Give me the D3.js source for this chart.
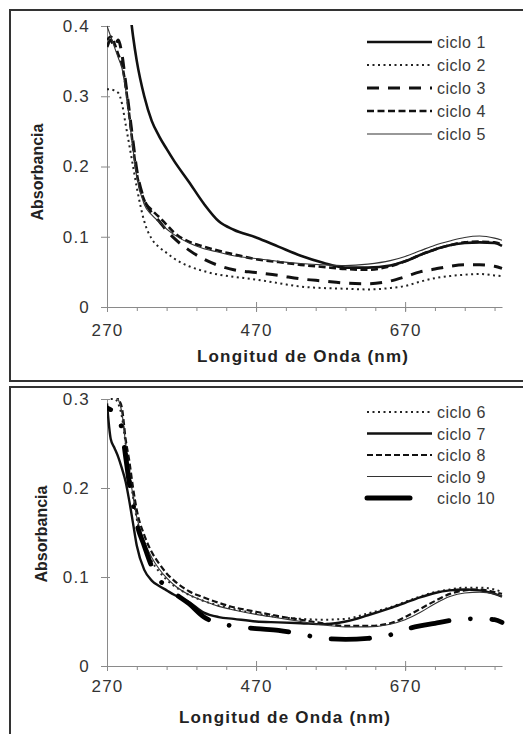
<!DOCTYPE html>
<html>
<head>
<meta charset="utf-8">
<script src="https://cdn.jsdelivr.net/npm/d3@7"></script>
<style>
  html, body { margin: 0; padding: 0; background: #fff; }
  svg { display: block; }
  text { font-family: "Liberation Sans", Arial, sans-serif; }
</style>
</head>
<body>
<svg id="chart" width="523" height="734"></svg>
<script>
// ---------- DATA ----------
const wavelengths = [270, 275, 280, 285, 290, 295, 300, 305, 310, 320, 330, 340, 350, 360, 380, 400, 420, 440, 470, 500, 530, 560, 590, 620, 650, 670, 690, 710, 730, 750, 770, 790, 800];

const xTickLabels = [270, 470, 670];
const xMinorTicks = [270, 310, 350, 390, 430, 470, 510, 550, 590, 630, 670, 710, 750, 790];
const yTicksTop = [0, 0.1, 0.2, 0.3, 0.4];
const yTicksBottom = [0, 0.1, 0.2, 0.3];

const seriesNamesTop = ["ciclo 1", "ciclo 2", "ciclo 3", "ciclo 4", "ciclo 5"];
const seriesNamesBottom = ["ciclo 6", "ciclo 7", "ciclo 8", "ciclo 9", "ciclo 10"];

const ciclo1 = [null, null, null, null, null, null, 0.43, 0.385, 0.350, 0.300, 0.265, 0.243, 0.225, 0.208, 0.178, 0.147, 0.122, 0.110, 0.099, 0.086, 0.073, 0.063, 0.056, 0.056, 0.059, 0.065, 0.074, 0.082, 0.088, 0.091, 0.092, 0.091, 0.087];
const ciclo2 = [0.310, 0.310, 0.308, 0.305, 0.290, 0.260, 0.230, 0.200, 0.170, 0.122, 0.097, 0.085, 0.077, 0.069, 0.058, 0.051, 0.046, 0.043, 0.039, 0.034, 0.029, 0.027, 0.026, 0.025, 0.027, 0.030, 0.036, 0.041, 0.044, 0.046, 0.047, 0.045, 0.044];
const ciclo3 = [0.370, 0.380, 0.370, 0.380, 0.360, 0.320, 0.278, 0.235, 0.195, 0.153, 0.134, 0.122, 0.109, 0.098, 0.081, 0.068, 0.059, 0.053, 0.049, 0.045, 0.040, 0.037, 0.034, 0.033, 0.037, 0.043, 0.050, 0.054, 0.058, 0.060, 0.060, 0.058, 0.055];
const ciclo4 = [0.380, 0.385, 0.375, 0.360, 0.345, 0.315, 0.272, 0.228, 0.190, 0.152, 0.138, 0.128, 0.117, 0.106, 0.093, 0.086, 0.080, 0.075, 0.068, 0.064, 0.060, 0.057, 0.054, 0.053, 0.058, 0.065, 0.074, 0.082, 0.088, 0.092, 0.093, 0.092, 0.089];
const ciclo5 = [0.400, 0.385, 0.370, 0.355, 0.340, 0.310, 0.268, 0.224, 0.185, 0.146, 0.131, 0.121, 0.111, 0.103, 0.091, 0.083, 0.078, 0.073, 0.069, 0.065, 0.062, 0.060, 0.059, 0.061, 0.066, 0.072, 0.080, 0.088, 0.094, 0.099, 0.101, 0.098, 0.095];

const ciclo6 = [null, 0.300, 0.300, 0.295, 0.280, 0.250, 0.220, 0.190, 0.165, 0.138, 0.118, 0.106, 0.097, 0.090, 0.080, 0.073, 0.068, 0.064, 0.059, 0.055, 0.053, 0.052, 0.053, 0.059, 0.066, 0.072, 0.078, 0.083, 0.086, 0.088, 0.088, 0.086, 0.083];
const ciclo7 = [0.295, 0.255, 0.245, 0.235, 0.222, 0.207, 0.185, 0.160, 0.135, 0.108, 0.096, 0.090, 0.085, 0.080, 0.072, 0.060, 0.055, 0.053, 0.050, 0.049, 0.048, 0.047, 0.050, 0.057, 0.065, 0.071, 0.077, 0.082, 0.085, 0.086, 0.085, 0.081, 0.078];
const ciclo8 = [null, null, 0.305, 0.300, 0.290, 0.255, 0.230, 0.200, 0.175, 0.147, 0.128, 0.115, 0.104, 0.096, 0.084, 0.077, 0.071, 0.066, 0.061, 0.056, 0.052, 0.048, 0.045, 0.045, 0.048, 0.055, 0.064, 0.073, 0.081, 0.085, 0.086, 0.083, 0.081];
const ciclo9 = [null, null, 0.305, 0.300, 0.285, 0.250, 0.220, 0.190, 0.167, 0.140, 0.122, 0.109, 0.099, 0.091, 0.080, 0.073, 0.067, 0.063, 0.058, 0.054, 0.050, 0.046, 0.044, 0.044, 0.047, 0.052, 0.060, 0.070, 0.078, 0.082, 0.083, 0.081, 0.078];
const ciclo10 = [0.290, 0.288, 0.287, 0.283, 0.265, 0.235, 0.205, 0.182, 0.160, 0.135, 0.112, 0.097, 0.089, 0.082, 0.070, 0.055, 0.048, 0.045, 0.042, 0.040, 0.036, 0.031, 0.030, 0.031, 0.035, 0.041, 0.045, 0.048, 0.051, 0.053, 0.053, 0.052, 0.049];

const topValues = [ciclo1, ciclo2, ciclo3, ciclo4, ciclo5];
const bottomValues = [ciclo6, ciclo7, ciclo8, ciclo9, ciclo10];

// ---------- STYLES ----------
const stylesTop = [
  { width: 2.6, dash: null, color: "#111", cap: "butt" },
  { width: 2, dash: "2,3.5", color: "#222", cap: "butt" },
  { width: 3, dash: "12,9", color: "#111", cap: "butt" },
  { width: 2.6, dash: "7,3.5", color: "#111", cap: "butt" },
  { width: 1.1, dash: null, color: "#333", cap: "butt" }
];
const stylesBottom = [
  { width: 2, dash: "2,3.5", color: "#222", cap: "butt" },
  { width: 2.4, dash: null, color: "#111", cap: "butt" },
  { width: 2.2, dash: "6,3", color: "#111", cap: "butt" },
  { width: 1.1, dash: null, color: "#333", cap: "butt" },
  { width: 4.8, dash: "dashdot", color: "#000", cap: "round" }
];

const svg = d3.select("#chart");

// panel frames
svg.append("rect").attr("x", 10).attr("y", 10).attr("width", 530).attr("height", 371)
  .attr("fill", "none").attr("stroke", "#333").attr("stroke-width", 2);
svg.append("rect").attr("x", 10).attr("y", 387).attr("width", 530).attr("height", 360)
  .attr("fill", "none").attr("stroke", "#333").attr("stroke-width", 2);

function drawPanel(opts) {
  const g = svg.append("g");
  const x = d3.scaleLinear().domain([270, 800]).range([107, 502]);
  const y = d3.scaleLinear().domain([0, opts.ymax]).range([opts.y0, opts.ytop]);
  const axisColor = "#8a8a8a";

  // clip
  const clipId = "clip" + opts.id;
  svg.append("clipPath").attr("id", clipId).append("rect")
    .attr("x", x(270)).attr("y", y(opts.ymax) - 1).attr("width", x(800) - x(270) + 3).attr("height", y(0) - y(opts.ymax) + 1);

  // x axis minor ticks (downward)
  const xMinor = g.append("g").attr("transform", `translate(0,${y(0)})`)
    .call(d3.axisBottom(x).tickValues(xMinorTicks).tickSize(4).tickSizeOuter(0).tickFormat(""));
  xMinor.select(".domain").attr("stroke", axisColor);
  xMinor.selectAll(".tick line").attr("stroke", axisColor);
  // major ticks crossing
  const xMajor = g.append("g").attr("transform", `translate(0,${y(0) - 5})`)
    .call(d3.axisBottom(x).tickValues(xTickLabels).tickSize(10).tickFormat(""));
  xMajor.select(".domain").remove();
  xMajor.selectAll(".tick line").attr("stroke", axisColor);
  // x labels
  const xLab = g.append("g").attr("transform", `translate(0,${y(0)})`)
    .call(d3.axisBottom(x).tickValues(xTickLabels).tickSize(0).tickPadding(opts.xLabelPad).tickFormat(d3.format("d")));
  xLab.select(".domain").remove();
  xLab.selectAll("text").attr("font-size", 17).attr("fill", "#333")
    .attr("font-family", "Liberation Sans, Arial, sans-serif").style("letter-spacing", "1.2px");

  // y axis
  const yTickG = g.append("g").attr("transform", `translate(${x(270) + 3},0)`)
    .call(d3.axisLeft(y).tickValues(opts.yTicks).tickSize(9).tickFormat(""));
  yTickG.select(".domain").remove();
  yTickG.selectAll(".tick line").attr("stroke", axisColor);
  const yDom = g.append("g").attr("transform", `translate(${x(270)},0)`)
    .call(d3.axisLeft(y).tickValues([]).tickSizeOuter(0));
  yDom.select(".domain").attr("stroke", axisColor);
  const yLab = g.append("g").attr("transform", `translate(${x(270)},0)`)
    .call(d3.axisLeft(y).tickValues(opts.yTicks).tickSize(0).tickPadding(17)
      .tickFormat(d => d === 0 ? "0" : d3.format(".1f")(d)));
  yLab.select(".domain").remove();
  yLab.selectAll("text").attr("font-size", 17).attr("fill", "#333")
    .attr("font-family", "Liberation Sans, Arial, sans-serif").style("letter-spacing", "1.2px");

  // axis titles
  g.append("text").attr("x", opts.xTitleX).attr("y", opts.xTitleY)
    .attr("text-anchor", "middle").attr("font-size", 17).attr("font-weight", "bold")
    .attr("fill", "#222").style("letter-spacing", "1.2px")
    .text("Longitud de Onda (nm)");
  g.append("text").attr("transform", `translate(${opts.yTitleX},${opts.yTitleY}) rotate(-90)`)
    .attr("text-anchor", "middle").attr("font-size", 16).attr("font-weight", "bold")
    .attr("fill", "#222").text("Absorbancia");

  // lines
  const lineGen = vals => d3.line()
    .defined((d, i) => vals[i] !== null)
    .x((d, i) => x(wavelengths[i]))
    .y((d, i) => y(vals[i]))
    .curve(d3.curveMonotoneX)(wavelengths);

  const linesG = g.append("g").attr("clip-path", `url(#${clipId})`);
  opts.values.forEach((vals, k) => {
    const st = opts.styles[k];
    const p = linesG.append("path").attr("d", lineGen(vals))
      .attr("fill", "none").attr("stroke", st.color).attr("stroke-width", st.width)
      .attr("stroke-linecap", st.cap).attr("stroke-linejoin", "round");
    if (st.dash === "dashdot") {
      const dashLen = 38.5, gap = 21.5, period = dashLen + gap + 0.01 + gap;
      p.attr("stroke-dasharray", `${dashLen},${gap},0.01,${gap}`);
      // align a dot with the dot visible near 542 nm
      const node = p.node();
      const total = node.getTotalLength();
      const target = x(542);
      let lo = 0, hi = total;
      for (let it = 0; it < 40; it++) {
        const mid = (lo + hi) / 2;
        if (node.getPointAtLength(mid).x < target) lo = mid; else hi = mid;
      }
      const want = dashLen + gap;
      p.attr("stroke-dashoffset", (((want - lo) % period) + period) % period);
    } else if (st.dash) {
      p.attr("stroke-dasharray", st.dash);
    }
  });

  // legend
  const lg = g.append("g");
  opts.names.forEach((name, k) => {
    const st = opts.styles[k];
    const ly = opts.legendY + k * opts.legendStep;
    const isDD = st.dash === "dashdot";
    const ln = lg.append("line").attr("x1", 367).attr("x2", isDD ? 410 : 432)
      .attr("y1", ly).attr("y2", ly)
      .attr("stroke", st.color).attr("stroke-width", isDD ? 5 : st.width)
      .attr("stroke-linecap", isDD ? "round" : "butt");
    if (st.dash && !isDD) ln.attr("stroke-dasharray", st.dash);
    lg.append("text").attr("x", 437).attr("y", ly + 6).attr("font-size", 16)
      .attr("fill", "#3a3a3a").style("letter-spacing", "0.5px").text(name);
  });
}

drawPanel({
  id: "top", ymax: 0.4, y0: 307, ytop: 26, yTicks: yTicksTop,
  values: topValues, styles: stylesTop, names: seriesNamesTop,
  xLabelPad: 17, xTitleX: 303, xTitleY: 362, yTitleX: 43, yTitleY: 172,
  legendY: 42, legendStep: 23
});
drawPanel({
  id: "bottom", ymax: 0.3, y0: 666, ytop: 399, yTicks: yTicksBottom,
  values: bottomValues, styles: stylesBottom, names: seriesNamesBottom,
  xLabelPad: 14, xTitleX: 285, xTitleY: 723, yTitleX: 47, yTitleY: 534,
  legendY: 412, legendStep: 21.5
});
</script>
</body>
</html>
